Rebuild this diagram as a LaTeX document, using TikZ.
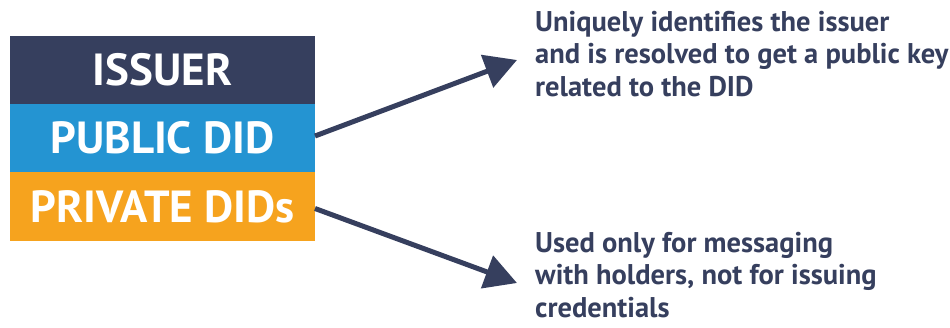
\documentclass[tikz,border=0pt]{standalone}
\usepackage{fontspec}
\setmainfont{PT Sans}
\usetikzlibrary{arrows.meta}
\definecolor{navy}{HTML}{363F5E}
\definecolor{dblue}{HTML}{2494D2}
\definecolor{orng}{HTML}{F6A31E}
\tikzset{
  band/.style={minimum width=305pt,minimum height=68pt,inner sep=0pt,outer sep=0pt,text=white,font=\fontsize{45}{45}\selectfont\bfseries,anchor=north west},
  note/.style={anchor=north west,align=left,text=navy,inner sep=0pt,font=\fontsize{28.5}{32.5}\selectfont\bfseries},
  conn/.style={draw=navy,line width=5pt,-{Triangle[length=32pt,width=34pt]}}
}
\begin{document}
\begin{tikzpicture}[x=1pt,y=-1pt]
\useasboundingbox (0,0) rectangle (950,328);
\node[band,fill=navy] (iss) at (10,36) {ISSUER};
\node[band,fill=dblue] (pub) at (10,104) {PUBLIC DID};
\node[band,fill=orng,minimum height=69pt] (priv) at (10,172) {PRIVATE DIDs};
\node[note] (t1) at (535,11) {Uniquely identifies the issuer\\and is resolved to get a public key\\related to the DID};
\node[note] (t2) at (535,232) {Used only for messaging\\with holders, not for issuing\\credentials};
\coordinate (a1) at (517,60);
\coordinate (a2) at (517,283);
\draw[conn] ([yshift=2pt]pub.east) -- (a1);
\draw[conn] ([yshift=-2pt]priv.east) -- (a2);
\end{tikzpicture}
\end{document}
